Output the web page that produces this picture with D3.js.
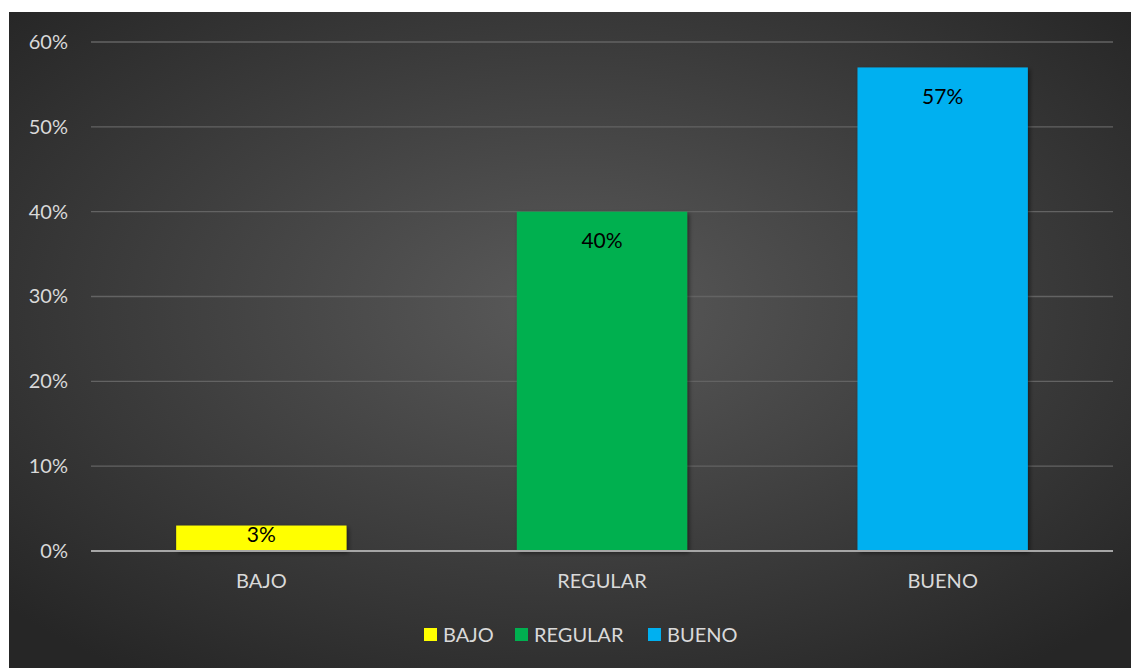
<!DOCTYPE html>
<html><head><meta charset="utf-8">
<script src="https://cdn.jsdelivr.net/npm/d3@7"></script>
<style>html,body{margin:0;padding:0;background:#fff;}svg{display:block;}</style>
</head><body>
<svg id="c" width="1131" height="668"></svg>
<script>
const categories = ["BAJO", "REGULAR", "BUENO"];
const values = [0.03, 0.40, 0.57];
const colors = ["#FFFF00", "#00B050", "#00B0F0"];
const yTicks = [0, 0.1, 0.2, 0.3, 0.4, 0.5, 0.6];

const svg = d3.select("#c");
const W = 1131, H = 668;
const font = "Lato, 'Open Sans', sans-serif";

const defs = svg.append("defs");
const rg = defs.append("radialGradient").attr("id","bg").attr("cx","50%").attr("cy","45%").attr("r","68%");
rg.append("stop").attr("offset","0%").attr("stop-color","#5a5a5a");
rg.append("stop").attr("offset","100%").attr("stop-color","#262626");
const f = defs.append("filter").attr("id","sh").attr("x","-10%").attr("y","-10%").attr("width","130%").attr("height","130%");
f.append("feDropShadow").attr("dx",2).attr("dy",2).attr("stdDeviation",2).attr("flood-color","#000").attr("flood-opacity",0.5);

svg.append("rect").attr("x",9).attr("y",12).attr("width",W-9).attr("height",H-12).attr("fill","url(#bg)");

const x = d3.scaleBand().domain(categories).range([91, 1113]).paddingInner(0.5).paddingOuter(0.25);
const y = d3.scaleLinear().domain([0, 0.6]).range([551, 42]);

const g = svg.append("g");
g.selectAll(".grid").data(yTicks.slice(1)).join("line")
  .attr("x1",91).attr("x2",1113).attr("y1",d=>y(d)).attr("y2",d=>y(d))
  .attr("stroke","#636363").attr("stroke-width",1.3);

const yAxis = d3.axisLeft(y).tickValues(yTicks).tickFormat(d3.format(".0%")).tickSize(0).tickPadding(0);
const ya = svg.append("g").attr("transform","translate(68,0)").call(yAxis);
ya.select(".domain").remove();
ya.selectAll("text").attr("fill","#d9d9d9").style("font-family",font).style("font-size","20px");

g.selectAll(".bar").data(values).join("rect")
  .attr("x",(d,i)=>x(categories[i])).attr("width",x.bandwidth())
  .attr("y",d=>y(d)).attr("height",d=>y(0)-y(d))
  .attr("fill",(d,i)=>colors[i]).attr("filter","url(#sh)");

svg.append("line").attr("x1",91).attr("x2",1113).attr("y1",y(0)).attr("y2",y(0))
  .attr("stroke","#a6a6a6").attr("stroke-width",2);

g.selectAll(".lbl").data(values).join("text")
  .attr("x",(d,i)=>x(categories[i])+x.bandwidth()/2)
  .attr("y",d=>{const h=y(0)-y(d); return y(d)+Math.min(29, h/2-4);})
  .attr("dy","0.35em").attr("text-anchor","middle").attr("fill","#000")
  .style("font-family",font).style("font-size","21px")
  .text(d=>d3.format(".0%")(d));

const xAxis = d3.axisBottom(x).tickSize(0).tickPadding(0);
const xa = svg.append("g").attr("transform","translate(0,574)").call(xAxis);
xa.select(".domain").remove();
xa.selectAll("text").attr("fill","#d9d9d9").style("font-family",font).style("font-size","20px");

const legX = [424, 515, 648];
const lg = svg.append("g");
categories.forEach((c,i)=>{
  lg.append("rect").attr("x",legX[i]).attr("y",628).attr("width",13).attr("height",13).attr("fill",colors[i]);
  lg.append("text").attr("x",legX[i]+19).attr("y",635).attr("dy","0.35em").attr("fill","#d9d9d9")
    .style("font-family",font).style("font-size","20px").text(c);
});
</script>
</body></html>
